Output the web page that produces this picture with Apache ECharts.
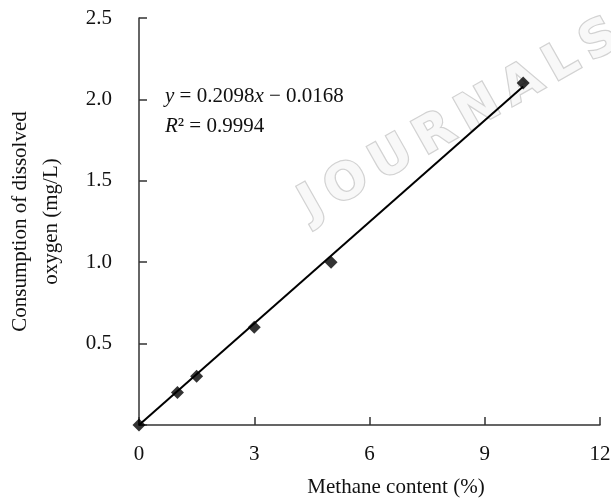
<!DOCTYPE html>
<html lang="en" style="height: 100%">
<head>
  <meta charset="utf-8">
</head>
<body style="height: 100%; margin: 0; background: #fff">
  <div id="container" style="width: 611px; height: 498px"></div>

  <script type="text/javascript" src="https://fastly.jsdelivr.net/npm/echarts@6/dist/echarts.min.js"></script>
  <script type="text/javascript">
    // measured points: methane content (%) vs. DO consumption (mg/L)
    const methane = [0, 1, 1.5, 3, 5, 10];
    const doConsumption = [0, 0.2, 0.3, 0.6, 1.0, 2.1];
    // fitted line as drawn in the figure (end points)
    const fitX = [0, 10];
    const fitY = [0, 2.08];
    const xTicks = [0, 3, 6, 9, 12];
    const yTicks = [0.5, 1.0, 1.5, 2.0, 2.5];

    var dom = document.getElementById('container');
    var myChart = echarts.init(dom, null, { renderer: 'canvas' });
    var option;

    const font = 'Liberation Serif';
    const ink = '#111';

    option = {
      backgroundColor: '#fff',
      animation: false,
      textStyle: { fontFamily: font },
      grid: { left: 139, right: 11, top: 18, bottom: 73, outerBoundsMode: 'none', containLabel: false },
      xAxis: {
        type: 'value',
        min: xTicks[0],
        max: xTicks[xTicks.length - 1],
        interval: 3,
        name: 'Methane content (%)',
        nameLocation: 'middle',
        nameGap: 52,
        nameTextStyle: { fontFamily: font, fontSize: 21, color: ink, padding: [0, 0, 0, 53] },
        axisLine: { lineStyle: { color: '#333', width: 1.5 } },
        axisTick: { inside: true, length: 8, lineStyle: { color: '#333', width: 1.5 } },
        axisLabel: { fontFamily: font, fontSize: 21, color: ink, margin: 19 },
        splitLine: { show: false }
      },
      yAxis: {
        type: 'value',
        min: 0,
        max: yTicks[yTicks.length - 1],
        interval: 0.5,
        name: 'Consumption of dissolved\noxygen (mg/L)',
        nameLocation: 'middle',
        nameGap: 72,
        nameTextStyle: { fontFamily: font, fontSize: 21, color: ink, lineHeight: 31 },
        axisLine: { show: true, lineStyle: { color: '#333', width: 1.5 } },
        axisTick: { show: true, inside: true, length: 8, lineStyle: { color: '#333', width: 1.5 } },
        axisLabel: {
          fontFamily: font, fontSize: 21, color: ink, margin: 27,
          formatter: function (v) { return v === 0 ? '' : v.toFixed(1); }
        },
        splitLine: { show: false }
      },
      graphic: [
        {
          type: 'text',
          x: 460, y: 121,
          rotation: 0.515,
          z: -10,
          silent: true,
          style: {
            text: 'J\u2009O\u2009U\u2009R\u2009N\u2009A\u2009L\u2009S',
            font: 'bold 50px "DejaVu Sans"',
            align: 'center',
            verticalAlign: 'middle',
            fill: '#f8f8f8',
            stroke: '#d2d2d2',
            lineWidth: 2.5,
            shadowColor: 'rgba(0,0,0,0.12)',
            shadowBlur: 4,
            shadowOffsetX: 2,
            shadowOffsetY: 2
          }
        },
        {
          type: 'text',
          left: 165, top: 81,
          z: 10,
          style: {
            text: '{i|y} = 0.2098{i|x} \u2212 0.0168\n{i|R}\u00b2 = 0.9994',
            rich: {
              i: { fontFamily: font, fontSize: 21, fontStyle: 'italic', fill: ink, lineHeight: 30 }
            },
            fontFamily: font,
            fontSize: 21,
            lineHeight: 30,
            fill: ink
          }
        }
      ],
      series: [
        {
          type: 'line',
          data: fitX.map(function (x, i) { return [x, fitY[i]]; }),
          showSymbol: false,
          lineStyle: { color: '#000', width: 2 },
          z: 2
        },
        {
          type: 'scatter',
          data: methane.map(function (x, i) { return [x, doConsumption[i]]; }),
          symbol: 'path://M0,-1L1,0L0,1L-1,0Z',
          symbolSize: 13,
          itemStyle: { color: '#000' },
          clip: false,
          z: 3
        }
      ]
    };

    myChart.setOption(option);
    window.addEventListener('resize', myChart.resize);
  </script>
</body>
</html>
